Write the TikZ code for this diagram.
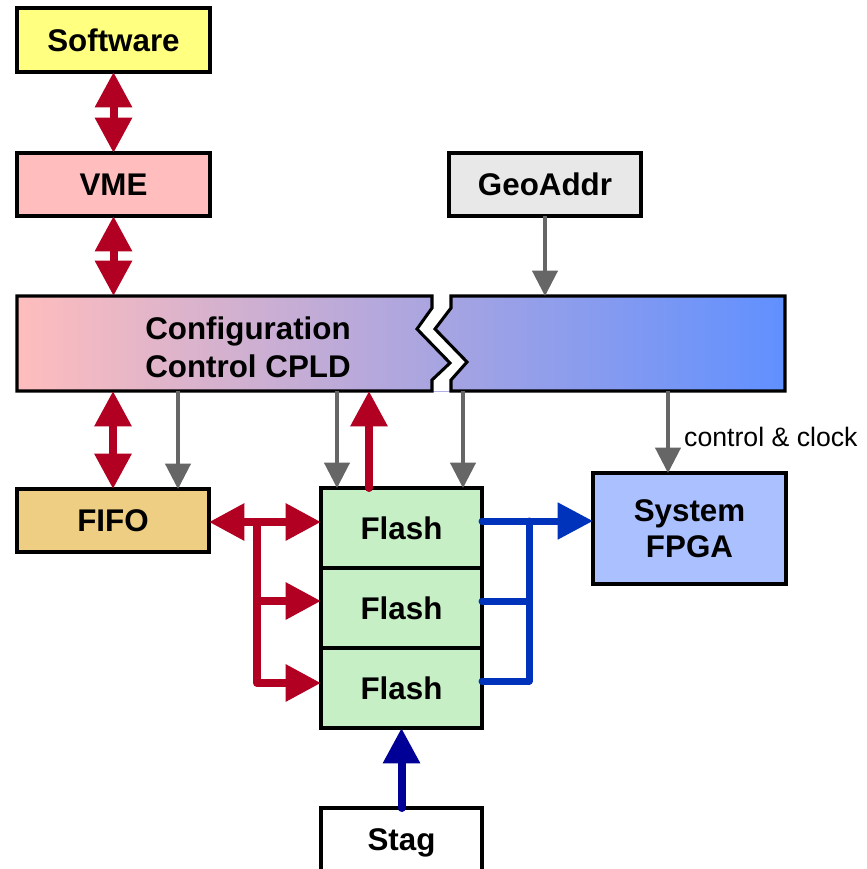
\documentclass[tikz,border=0pt]{standalone}
\usepackage{fontspec}
\setmainfont{Liberation Sans}
\usetikzlibrary{arrows.meta,calc}
\definecolor{cred}{RGB}{178,0,35}
\definecolor{cblue}{RGB}{0,51,187}
\definecolor{cnavy}{RGB}{0,0,150}
\definecolor{cgray}{RGB}{102,102,102}
\definecolor{cyel}{RGB}{255,255,128}
\definecolor{cpink}{RGB}{255,189,189}
\definecolor{cgeo}{RGB}{232,232,232}
\definecolor{cfifo}{RGB}{238,206,130}
\definecolor{cflash}{RGB}{198,239,198}
\definecolor{cfpga}{RGB}{170,192,255}
\definecolor{cmid}{RGB}{200,170,222}
\definecolor{cright}{RGB}{96,144,255}
\begin{document}
\begin{tikzpicture}[x=0.75pt,y=-0.75pt,
  box/.style={draw=black, line width=2.3pt, inner sep=0pt, outer sep=0pt,
    font=\fontsize{23.5}{27}\selectfont\bfseries, align=center},
  rdbl/.style={draw=cred, line width=6pt, arrows={Triangle[length=26.5pt,width=26.5pt]-Triangle[length=26.5pt,width=26.5pt]}},
  rline/.style={draw=cred, line width=6pt, line join=round, -{Triangle[length=26.5pt,width=26.5pt]}},
  garrow/.style={draw=cgray, line width=2.3pt, -{Triangle[length=19pt,width=19pt]}},
  bline/.style={draw=cblue, line width=5.25pt, line cap=round, line join=round},
  lbl/.style={font=\fontsize{20}{24}\selectfont, inner sep=0pt}
]
\useasboundingbox (0,0) rectangle (867,869);

% boxes
\node[box, fill=cyel, minimum width=144.75pt, minimum height=48pt] (sw) at (113.5,40) {Software};
\node[box, fill=cpink, minimum width=144.75pt, minimum height=47.25pt] (vme) at (113.5,184.5) {VME};
\node[box, fill=cgeo, minimum width=144pt, minimum height=47.25pt] (geo) at (545,184.5) {GeoAddr};
\node[box, fill=cfifo, minimum width=144pt, minimum height=47.25pt] (fifo) at (113,520.5) {FIFO};
\node[box, fill=cflash, minimum width=120.75pt, minimum height=60pt] (flash1) at (401.5,528) {Flash};
\node[box, fill=cflash, minimum width=120.75pt, minimum height=60pt] (flash2) at (401.5,608) {Flash};
\node[box, fill=cflash, minimum width=120.75pt, minimum height=60pt] (flash3) at (401.5,688) {Flash};
\node[box, fill=cfpga, minimum width=144.75pt, minimum height=83.25pt, text depth=0pt] (fpga) at (689.5,528.5) {System\\FPGA};
\node[box, fill=white, minimum width=120.75pt, minimum height=48pt, text depth=0pt] (stag) at (401.5,840) {Stag};

% CPLD with break
\node[inner sep=0pt, outer sep=0pt, minimum width=576pt, minimum height=71.25pt] (cpld) at (401,343.5) {};
\shade[left color=cpink, middle color=cmid, right color=cright] (cpld.north west) rectangle (cpld.south east);
\fill[white] (432,296) -- (451,296) -- (451,308) -- (435,329) -- (467,362) -- (451,380) -- (451,391)
  -- (432,391) -- (432,380) -- (450,363) -- (417,329) -- (432,308) -- cycle;
\draw[line width=2.3pt, line join=miter] (432,296) -- (17,296) -- (17,391) -- (432,391) -- (432,380) -- (450,363) -- (417,329) -- (432,308) -- cycle;
\draw[line width=2.3pt, line join=miter] (451,296) -- (785,296) -- (785,391) -- (451,391) -- (451,380) -- (467,362) -- (435,329) -- (451,308) -- cycle;
\node[font=\fontsize{23.5}{28.5}\selectfont\bfseries, align=center, inner sep=0pt] (cpldtxt) at (248,347) {Configuration\\Control CPLD};

% red double arrows
\draw[rdbl] (sw.south) -- (vme.north);
\draw[rdbl] (vme.south) -- (vme.south |- cpld.north);
\draw[rdbl] (cpld.south -| fifo.north) -- (fifo.north);

% gray arrows
\coordinate (g1) at ($(fifo.north)+(65,0)$);
\coordinate (g2) at ($(flash1.north)+(-64.5,0)$);
\coordinate (g3) at ($(flash1.north)+(61.5,0)$);
\coordinate (g5) at ($(fpga.north)+(-21.5,0)$);
\draw[garrow] (g1 |- cpld.south) -- (g1);
\draw[garrow] (g2 |- cpld.south) -- (g2);
\draw[garrow] (g3 |- cpld.south) -- (g3);
\draw[garrow] (geo.south) -- (geo.south |- cpld.north);
\draw[garrow] (g5 |- cpld.south) -- node[lbl, pos=0.56, right=11pt] (ctl) {control \& clock} (g5);

% red up arrow flash -> cpld
\coordinate (r0) at ($(flash1.north)+(-32.5,0)$);
\draw[rline, line cap=round] (r0) -- (r0 |- cpld.south);

% FIFO <-> flashes
\coordinate (ra) at ($(flash1.west)+(0,-6)$);
\coordinate (rb) at ($(flash2.west)+(0,-7)$);
\coordinate (rc) at ($(flash3.west)+(0,-5)$);
\coordinate (rx) at ($(fifo.east)+(48,0)$);
\draw[rdbl] (fifo.east |- ra) -- (ra);
\draw[rline] (rx |- ra) -- (rx |- rc) -- (rc);
\draw[rline] (rx |- rb) -- (rb);

% flashes -> FPGA
\coordinate (ba) at ($(flash1.east)+(0,-7)$);
\coordinate (bb) at ($(flash2.east)+(0,-7)$);
\coordinate (bc) at ($(flash3.east)+(0,-7)$);
\coordinate (bx) at ($(flash1.east)+(47,0)$);
\draw[bline, -{Triangle[length=26.5pt,width=26.5pt]}] (ba) -- (fpga.west |- ba);
\draw[bline] (bb) -- (bx |- bb);
\draw[bline] (bc) -- (bx |- bc) -- (bx |- ba);

% Stag -> flash
\draw[draw=cnavy, line width=6pt, line cap=round, -{Triangle[length=26.5pt,width=26.5pt]}] (stag.north) -- (flash3.south);
\end{tikzpicture}
\end{document}
